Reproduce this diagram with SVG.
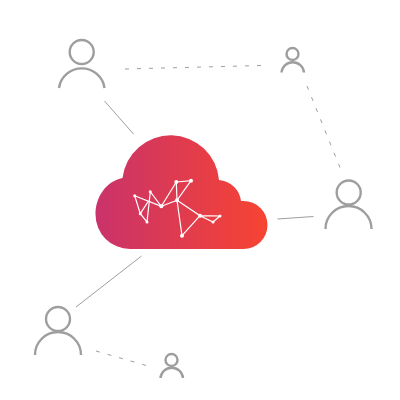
<svg xmlns="http://www.w3.org/2000/svg" width="400" height="400" viewBox="0 0 400 400">
<defs>
<linearGradient id="g" gradientUnits="userSpaceOnUse" x1="95" y1="190" x2="268" y2="190">
<stop offset="0" stop-color="#c9336b"/><stop offset="1" stop-color="#f74432"/>
</linearGradient>
</defs>
<style>
.p{fill:none;stroke:#9e9e9e;stroke-width:2.4}
.c{fill:none;stroke:#9e9e9e;stroke-width:1}
.d{stroke-dasharray:4 8}
.n{stroke:#fff;stroke-width:1.2;fill:none}
.w{fill:#fff}
</style>
<g id="connectors">
<path class="c" d="M104.500 101 L133.500 134"/>
<path class="c" d="M277.500 219 L313.500 216.500"/>
<path class="c" d="M76 307 L141.500 256"/>
<path class="c d" d="M125 69 L262 65.500"/>
<path class="c d" d="M307 86 L341 170"/>
<path class="c d" d="M96 351 L148 366"/>
</g>
<g id="cloud">
<path fill="url(#g)" d="M122.500 178 A48.500 48.500 0 0 1 219 180 A24 24 0 0 1 241 201 H243.500 A24 24 0 0 1 243.500 249 H130 A34.500 34.500 0 0 1 95.500 214.500 C95.500 196 107 181 122.500 178 Z"/>
<path class="n" d="M134.700 195.700 L161.300 206.300 L150.300 191.700 L147 222 L140.300 213.700 L134.700 195.700 M140.300 213.700 L148.500 201 M161.300 206.300 L176.300 182 L191 180.700 L177 200.300 L161.300 206.300 M176.300 182 L177 200.300 L182 235.700 L200 215.700 L177 200.300 M200 215.700 L220 216 L213 222 L200 215.700"/>
<g class="w">
<circle cx="134.700" cy="195.700" r="1.500"/><circle cx="150.300" cy="191.700" r="1.500"/><circle cx="161.300" cy="206.300" r="2"/><circle cx="176.300" cy="182" r="2"/><circle cx="191" cy="180.700" r="2"/><circle cx="177" cy="200.300" r="2"/><circle cx="200" cy="215.700" r="2"/><circle cx="220" cy="216" r="1.500"/><circle cx="213" cy="222" r="1.500"/><circle cx="182" cy="235.700" r="2"/><circle cx="140.300" cy="213.700" r="1.500"/><circle cx="147" cy="222" r="1.500"/>
</g>
</g>
<g id="user-top-left"><circle class="p" cx="81.700" cy="52" r="12"/><path class="p" d="M59 88 A23 23 0 0 1 104.500 88"/></g>
<g id="user-top-right"><circle class="p" cx="292.500" cy="54" r="6"/><path class="p" d="M281.500 72.500 A11.300 11.300 0 0 1 304 72.500" /></g>
<g id="user-right"><circle class="p" cx="348.700" cy="192.500" r="12"/><path class="p" d="M325.500 229 A23 23 0 0 1 371.500 229"/></g>
<g id="user-bottom-left"><circle class="p" cx="58" cy="319" r="12"/><path class="p" d="M35 355 A23 23 0 0 1 81 355"/></g>
<g id="user-bottom"><circle class="p" cx="171.500" cy="360" r="6"/><path class="p" d="M160.500 378 A11.300 11.300 0 0 1 183 378"/></g>
</svg>
